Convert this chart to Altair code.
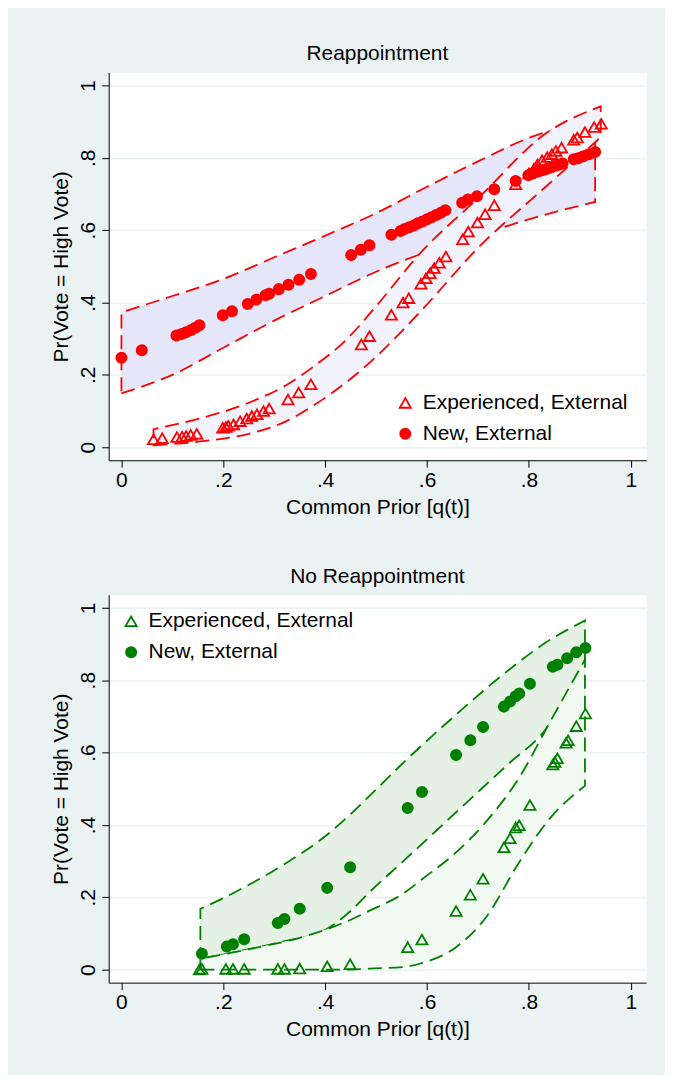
import altair as alt
import pandas as pd

SERIES = ["Experienced, External", "New, External"]

# ---------------- Top panel: Reappointment ----------------
top_new_q = [0.0, 0.04, 0.108, 0.118, 0.127, 0.137, 0.145, 0.153, 0.199, 0.217,
             0.248, 0.265, 0.283, 0.290, 0.309, 0.328, 0.349, 0.372, 0.451, 0.470,
             0.487, 0.530, 0.548, 0.556, 0.565, 0.574, 0.582, 0.591, 0.600, 0.609,
             0.618, 0.627, 0.636, 0.669, 0.680, 0.698, 0.732, 0.774, 0.799, 0.806,
             0.813, 0.820, 0.828, 0.836, 0.844, 0.852, 0.859, 0.866, 0.888, 0.897,
             0.907, 0.918, 0.930]
top_new_p = [0.247, 0.268, 0.309, 0.313, 0.318, 0.324, 0.330, 0.337, 0.365, 0.376,
             0.396, 0.408, 0.420, 0.424, 0.437, 0.449, 0.463, 0.479, 0.531, 0.546,
             0.558, 0.587, 0.598, 0.603, 0.608, 0.613, 0.619, 0.624, 0.630, 0.636,
             0.642, 0.648, 0.655, 0.676, 0.685, 0.694, 0.713, 0.736, 0.752, 0.756,
             0.760, 0.763, 0.766, 0.770, 0.774, 0.778, 0.781, 0.784, 0.796, 0.799,
             0.804, 0.810, 0.816]
top_exp_q = [0.063, 0.080, 0.109, 0.119, 0.127, 0.136, 0.148, 0.199, 0.205, 0.210,
             0.220, 0.233, 0.246, 0.256, 0.266, 0.279, 0.290, 0.327, 0.348, 0.372,
             0.471, 0.487, 0.530, 0.553, 0.564, 0.588, 0.598, 0.606, 0.614, 0.624,
             0.637, 0.670, 0.681, 0.699, 0.714, 0.732, 0.774, 0.800, 0.810, 0.817,
             0.826, 0.836, 0.845, 0.853, 0.864, 0.888, 0.895, 0.910, 0.928, 0.942]
top_exp_p = [0.022, 0.025, 0.028, 0.029, 0.031, 0.034, 0.037, 0.054, 0.056, 0.059,
             0.063, 0.072, 0.079, 0.086, 0.091, 0.100, 0.107, 0.132, 0.151, 0.174,
             0.284, 0.307, 0.366, 0.400, 0.412, 0.452, 0.467, 0.481, 0.495, 0.510,
             0.527, 0.575, 0.596, 0.621, 0.644, 0.669, 0.727, 0.757, 0.770, 0.782,
             0.793, 0.802, 0.810, 0.819, 0.828, 0.850, 0.856, 0.871, 0.885, 0.894]

top_newband_q = [0.0, 0.1, 0.2, 0.3, 0.4, 0.5, 0.6, 0.7, 0.8, 0.93]
top_newband_lo = [0.149, 0.200, 0.275, 0.350, 0.418, 0.485, 0.540, 0.585, 0.630, 0.678]
top_newband_hi = [0.373, 0.418, 0.465, 0.525, 0.585, 0.647, 0.720, 0.790, 0.855, 0.905]

top_expband_q = [0.063, 0.155, 0.25, 0.324, 0.38, 0.44, 0.5, 0.585, 0.703, 0.833, 0.941]
top_expband_lo = [0.005, 0.016, 0.037, 0.072, 0.118, 0.178, 0.250, 0.372, 0.555, 0.720, 0.857]
top_expband_hi = [0.050, 0.080, 0.123, 0.172, 0.226, 0.295, 0.390, 0.534, 0.692, 0.867, 0.942]

# ---------------- Bottom panel: No Reappointment ----------------
bot_new_q = [0.158, 0.207, 0.219, 0.241, 0.307, 0.320, 0.350, 0.404, 0.449, 0.562,
             0.590, 0.657, 0.685, 0.710, 0.751, 0.763, 0.774, 0.781, 0.802, 0.847,
             0.856, 0.875, 0.893, 0.911]
bot_new_p = [0.044, 0.064, 0.070, 0.084, 0.129, 0.140, 0.168, 0.226, 0.283, 0.447,
             0.491, 0.593, 0.634, 0.671, 0.727, 0.741, 0.756, 0.763, 0.790, 0.837,
             0.843, 0.861, 0.877, 0.889]
bot_exp_q = [0.153, 0.158, 0.205, 0.219, 0.241, 0.307, 0.320, 0.350, 0.404, 0.449,
             0.562, 0.590, 0.657, 0.685, 0.710, 0.751, 0.763, 0.774, 0.781, 0.802,
             0.847, 0.851, 0.856, 0.873, 0.877, 0.893, 0.911]
bot_exp_p = [0.000, 0.002, 0.002, 0.002, 0.002, 0.002, 0.002, 0.003, 0.009, 0.015,
             0.062, 0.083, 0.162, 0.207, 0.251, 0.338, 0.363, 0.393, 0.399, 0.455,
             0.567, 0.574, 0.584, 0.627, 0.634, 0.673, 0.708]

bot_newband_q = [0.155, 0.22, 0.318, 0.403, 0.45, 0.487, 0.552, 0.657, 0.761, 0.833, 0.91]
bot_newband_lo = [0.030, 0.048, 0.078, 0.112, 0.162, 0.214, 0.298, 0.435, 0.570, 0.664, 0.852]
bot_newband_hi = [0.168, 0.212, 0.290, 0.372, 0.430, 0.480, 0.570, 0.705, 0.829, 0.904, 0.965]

bot_expband_q = [0.155, 0.252, 0.35, 0.404, 0.45, 0.487, 0.553, 0.592, 0.657, 0.716, 0.781, 0.84, 0.91]
bot_expband_lo = [0.0, 0.0, 0.0, 0.0, 0.0, 0.003, 0.007, 0.019, 0.062, 0.145, 0.297, 0.416, 0.508]
bot_expband_hi = [0.030, 0.057, 0.088, 0.112, 0.138, 0.163, 0.210, 0.252, 0.324, 0.409, 0.531, 0.681, 0.857]

TICKS = [0, 0.2, 0.4, 0.6, 0.8, 1]
LABEL_EXPR = "datum.value == 0 ? '0' : datum.value == 1 ? '1' : replace(format(datum.value, '.1f'), '0.', '.')"
FONT = "Liberation Sans"
FS = 21

xscale = alt.Scale(domain=[-0.025, 1.03], nice=False, zero=False)
yscale = alt.Scale(domain=[-0.036, 1.036], nice=False, zero=False)

xaxis = alt.Axis(values=TICKS, labelExpr=LABEL_EXPR, grid=False, tickSize=7,
                 labelPadding=2, titlePadding=6, labelFontSize=FS, titleFontSize=FS,
                 labelFont=FONT, titleFont=FONT, labelColor="black", titleColor="black",
                 titleFontWeight="normal", domainColor="black", tickColor="black",
                 labelFlush=False)
yaxis = alt.Axis(values=TICKS, labelExpr=LABEL_EXPR, grid=True, gridColor="#EAF2F3",
                 gridWidth=1.5, tickSize=7, labelAngle=270, labelAlign="center",
                 labelBaseline="bottom", labelPadding=3, titlePadding=6,
                 labelFontSize=FS, titleFontSize=FS, labelFont=FONT, titleFont=FONT,
                 labelColor="black", titleColor="black", titleFontWeight="normal",
                 domainColor="black", tickColor="black", labelFlush=False)

XT = "Common Prior [q(t)]"
YT = "Pr(Vote = High Vote)"


def panel(title, exp_q, exp_p, new_q, new_p, nband, eband, color, new_fill, exp_fill, lx, ly):
    pts = pd.DataFrame({
        "q": exp_q + new_q,
        "p": exp_p + new_p,
        "series": [SERIES[0]] * len(exp_q) + [SERIES[1]] * len(new_q),
    })

    def band(b, fill):
        df = pd.DataFrame({"q": b[0], "lo": b[1], "hi": b[2]})
        return alt.Chart(df).mark_area(
            fill=fill, stroke=color, strokeDash=[14, 7], strokeWidth=1.8,
            interpolate="monotone", opacity=1
        ).encode(
            x=alt.X("q:Q", scale=xscale, axis=xaxis, title=XT),
            y=alt.Y("lo:Q", scale=yscale, axis=yaxis, title=YT),
            y2="hi:Q",
        )

    leg = alt.Legend(title=None, orient="none", legendX=lx, legendY=ly,
                     labelFontSize=FS, labelFont=FONT, labelColor="black",
                     labelLimit=400, symbolStrokeWidth=1.8,
                     labelOffset=7, rowPadding=9, padding=0)

    points = alt.Chart(pts).mark_point(
        filled=True, strokeWidth=1.8, opacity=1
    ).encode(
        x=alt.X("q:Q", scale=xscale, axis=xaxis, title=XT),
        y=alt.Y("p:Q", scale=yscale, axis=yaxis, title=YT),
        shape=alt.Shape("series:N", scale=alt.Scale(domain=SERIES, range=["triangle-up", "circle"]), legend=leg),
        fill=alt.Fill("series:N", scale=alt.Scale(domain=SERIES, range=["transparent", color]), legend=leg),
        stroke=alt.Stroke("series:N", scale=alt.Scale(domain=SERIES, range=[color, color]), legend=leg),
        size=alt.Size("series:N", scale=alt.Scale(domain=SERIES, range=[125, 105]), legend=leg),
    )

    return alt.layer(band(nband, new_fill), band(eband, exp_fill), points).properties(
        width=539, height=389,
        title=alt.TitleParams(title, fontSize=FS, font=FONT, fontWeight="normal",
                              color="black", offset=8, anchor="middle"),
    )


top = panel("Reappointment", top_exp_q, top_exp_p, top_new_q, top_new_p,
            (top_newband_q, top_newband_lo, top_newband_hi),
            (top_expband_q, top_expband_lo, top_expband_hi),
            "#FF0000", "#E6E6FA", "#F3F3FE", 287, 321)
bottom = panel("No Reappointment", bot_exp_q, bot_exp_p, bot_new_q, bot_new_p,
               (bot_newband_q, bot_newband_lo, bot_newband_hi),
               (bot_expband_q, bot_expband_lo, bot_expband_hi),
               "#008000", "#E5F1E5", "#F2F8F2", 12, 16)

chart = alt.vconcat(top, bottom, spacing=47).resolve_scale(
    fill="independent", shape="independent", stroke="independent", size="independent"
).resolve_legend(
    fill="independent", shape="independent", stroke="independent", size="independent"
).properties(
    padding={"left": 42, "top": 33, "right": 18, "bottom": 33},
    background="#EAF2F3",
).configure_view(
    fill="white", stroke="transparent"
)

chart.save("out.html", embed_options={"renderer": "svg", "actions": False})
